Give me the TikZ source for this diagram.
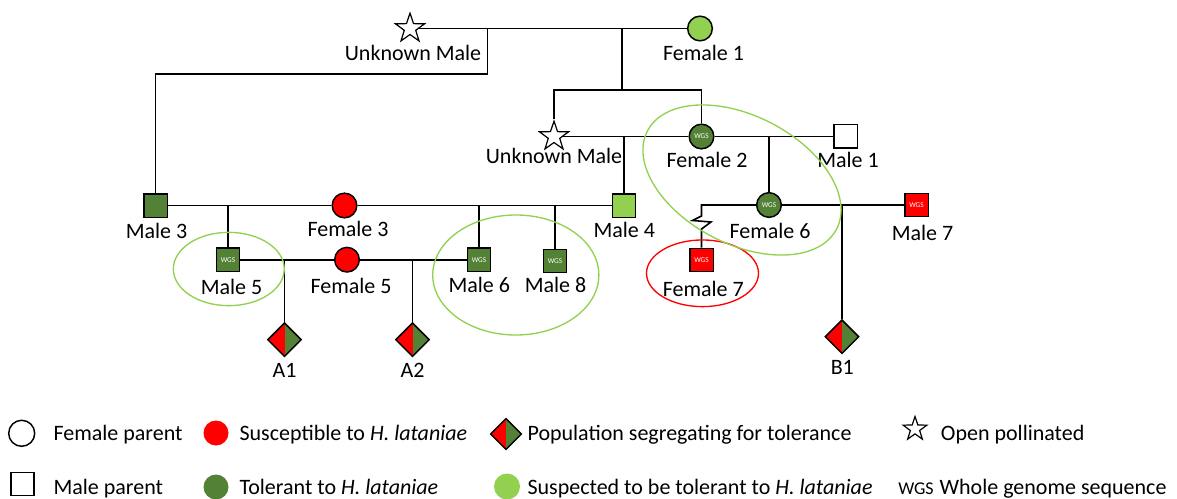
\documentclass[tikz,border=0pt]{standalone}
\usepackage{fontspec}
\setmainfont{Carlito}
\usetikzlibrary{shapes.geometric}
\definecolor{dkgreen}{HTML}{538135}
\definecolor{ltgreen}{HTML}{92D050}
\definecolor{pred}{HTML}{FF0000}
\begin{document}
\begin{tikzpicture}[x=0.75pt,y=-0.75pt,
  conn/.style={line width=1.2pt, draw=black},
  pers/.style={draw=black, line width=1.1pt, inner sep=0pt},
  fem/.style={pers, circle, minimum size=18.5pt},
  mal/.style={pers, rectangle, minimum size=17.6pt},
  wgs/.style={text=white, font=\fontsize{5.5}{5.5}\selectfont},
  ostar/.style={star, star points=5, star point ratio=2.55, draw=black, fill=white, line width=0.9pt, inner sep=0pt, minimum size=23pt},
  seg/.style={diamond, aspect=1, draw=black, line width=1.1pt, inner sep=0pt, minimum size=25.5pt,
    path picture={\fill[pred] (path picture bounding box.south west) rectangle (path picture bounding box.north);
                  \fill[dkgreen] (path picture bounding box.south) rectangle (path picture bounding box.north east);}},
  lbl/.style={font=\fontsize{16.5}{18}\selectfont, inner sep=0pt, anchor=base},
  leg/.style={lbl, anchor=base west},
  dot/.style={circle, inner sep=0pt, minimum size=18.75pt},
  ring/.style={line width=1pt}
]
\useasboundingbox (0,0) rectangle (1177,499);

% ---------- persons ----------
\node[ostar] (um1) at (410,28.5) {};
\node[fem, fill=ltgreen] (f1) at (700,28.5) {};
\node[ostar] (um2) at (554,136.5) {};
\node[fem, fill=dkgreen, wgs] (f2) at (701.5,136.5) {WGS};
\node[mal, fill=white] (m1) at (845.5,136.5) {};
\node[mal, fill=dkgreen] (m3) at (155.5,205.5) {};
\node[fem, fill=pred] (f3) at (344.5,205.5) {};
\node[mal, fill=ltgreen] (m4) at (624,205.5) {};
\node[fem, fill=dkgreen, wgs] (f6) at (769,205) {WGS};
\node[mal, fill=pred, wgs] (m7) at (916.5,205) {WGS};
\node[mal, fill=dkgreen, wgs] (m5) at (228,259.7) {WGS};
\node[fem, fill=pred] (f5) at (347,259.7) {};
\node[mal, fill=dkgreen, wgs] (m6) at (479,259.7) {WGS};
\node[mal, fill=dkgreen, wgs] (m8) at (555,261) {WGS};
\node[mal, fill=pred, wgs] (f7) at (701.5,260) {WGS};
\node[seg] (a1) at (284.5,339.7) {};
\node[seg] (a2) at (412.5,339.7) {};
\node[seg] (b1) at (842,336.7) {};

% ---------- labels ----------
\node[lbl] (lum1) at (413,61) {Unknown Male};
\node[lbl] (lf1) at (703.5,61) {Female 1};
\node[lbl] (lum2) at (554,164) {Unknown Male};
\node[lbl] (lf2) at (707,167) {Female 2};
\node[lbl] (lm1) at (848,167) {Male 1};
\node[lbl] (lm3) at (156.5,238) {Male 3};
\node[lbl] (lf3) at (348,236.5) {Female 3};
\node[lbl] (lm4) at (624.3,237) {Male 4};
\node[lbl] (lf6) at (770,238) {Female 6};
\node[lbl] (lm7) at (922.5,240.5) {Male 7};
\node[lbl] (lm5) at (231.5,294.5) {Male 5};
\node[lbl] (lf5) at (351,293) {Female 5};
\node[lbl] (lm6) at (479.3,292) {Male 6};
\node[lbl] (lm8) at (555.5,292) {Male 8};
\node[lbl] (lf7) at (703.3,296) {Female 7};
\node[lbl] (la1) at (284.5,377) {A1};
\node[lbl] (la2) at (412.5,377) {A2};
\node[lbl] (lb1) at (842.3,374) {B1};

% ---------- connectors ----------
\coordinate (j1) at (487.5,28.5);
\coordinate (k1) at (487.5,74);
\coordinate (j2) at (622,28.5);
\coordinate (j3) at (622,90);
\draw[conn] (um1) -- (f1);
\draw[conn] (j1) -- (k1) -| (m3);
\draw[conn] (j2) -- (j3);
\draw[conn] (um2) |- (j3) -| (f2);
\draw[conn] (um2) -- (f2) -- (m1);
\coordinate (j4) at (624,136.5);
\draw[conn] (j4) -- (m4);
\coordinate (j5) at (769,136.5);
\draw[conn] (j5) -- (f6);
\draw[conn] (m3) -- (f3) -- (m4);
\coordinate (j6) at (228,205.5);
\draw[conn] (j6) -- (m5);
\coordinate (j9) at (479,205.5);
\draw[conn] (j9) -- (m6);
\coordinate (j10) at (555,205.5);
\draw[conn] (j10) -- (m8);
\draw[conn] (m5) -- (f5) -- (m6);
\coordinate (j7) at (284.5,259.7);
\draw[conn] (j7) -- (a1);
\coordinate (j8) at (412.5,259.7);
\draw[conn] (j8) -- (a2);
\draw[conn] (f6) -- (m7);
\coordinate (j11) at (842,205);
\draw[conn] (j11) -- (b1);
\coordinate (z0) at (701.5,216);
\coordinate (z1) at (692.5,220.5);
\coordinate (z2) at (711,222);
\coordinate (z3) at (701.5,229);
\draw[conn, line join=miter] (f6) -| (z0) -- (z1) -- (z2) -- (z3) -- (f7);

% ---------- groupings ----------
\draw[ltgreen, ring] (228.8,269) ellipse [x radius=41.6pt, y radius=27.5pt];
\draw[ltgreen, ring] (515.8,275) ellipse [x radius=62.3pt, y radius=45pt];
\draw[pred, ring] (702.5,273.3) ellipse [x radius=42pt, y radius=25pt];
\draw[ltgreen, ring, rotate around={-27.4:(742,180)}] (742,180) ellipse [x radius=79.9pt, y radius=48pt];

% ---------- legend ----------
\node[pers, circle, minimum size=19.5pt, fill=white] (lg1) at (21.7,433.3) {};
\node[leg] (lt1) at (53.3,440) {Female parent};
\node[dot, fill=pred] (lg2) at (216,433) {};
\node[leg] (lt2) at (239.3,440) {Susceptible to \textit{H. lataniae}};
\node[seg, minimum size=23.5pt] (lg3) at (506,434) {};
\node[leg] (lt3) at (527.3,440) {Population segregating for tolerance};
\node[ostar, minimum size=18.75pt] (lg4) at (915,429) {};
\node[leg] (lt4) at (940.7,440) {Open pollinated};
\node[pers, rectangle, minimum size=17pt, fill=white] (lg5) at (22.5,484) {};
\node[leg] (lt5) at (53.3,494) {Male parent};
\node[dot, fill=dkgreen] (lg6) at (216,487) {};
\node[leg] (lt6) at (239.3,494) {Tolerant to \textit{H. lataniae}};
\node[dot, fill=ltgreen, minimum size=19.5pt] (lg7) at (507,486.5) {};
\node[leg] (lt7) at (527.3,494) {Suspected to be tolerant to \textit{H. lataniae}};
\node[font=\fontsize{13.5}{14}\selectfont, anchor=base west, inner sep=0pt] (lg8) at (898,494) {WGS};
\node[leg] (lt8) at (939.3,494) {Whole genome sequence};
\end{tikzpicture}
\end{document}
